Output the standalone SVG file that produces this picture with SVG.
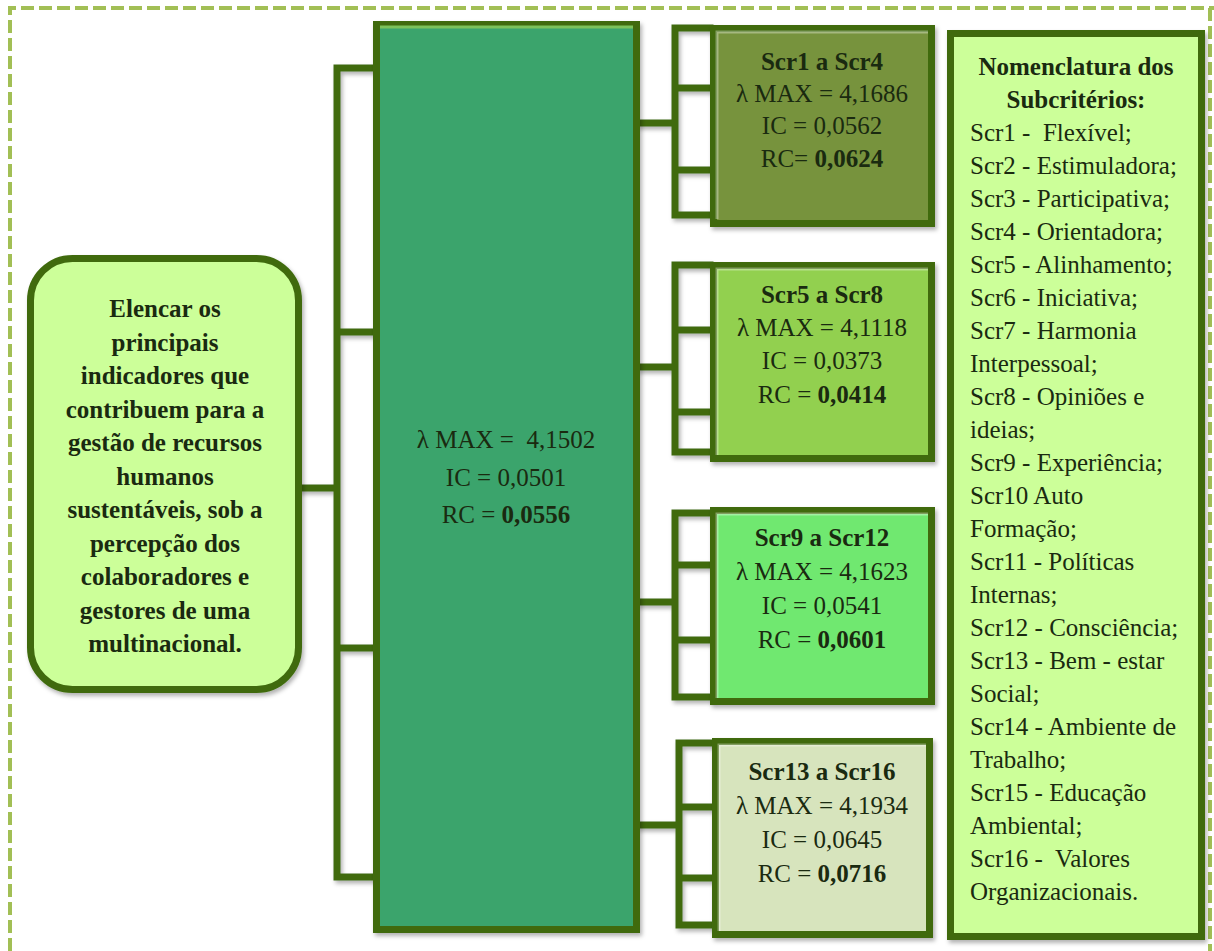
<svg xmlns="http://www.w3.org/2000/svg" width="1214" height="951" viewBox="0 0 1214 951">
<defs>
<style>
.frame{fill:none;stroke:#a2bf55;stroke-width:4;stroke-dasharray:13 5}
.ln{fill:none;stroke:#3f6b0e;stroke-width:7;stroke-linecap:square;stroke-linejoin:miter}
.node{stroke:#3f6b0e;stroke-width:7}
.hl{fill:none;stroke:#ffffff;stroke-opacity:0.35;stroke-width:3}
.t{font-family:"Liberation Serif","Times New Roman",serif;font-size:25px;fill:#1a2a10;text-anchor:middle;white-space:pre}
.l{text-anchor:start}
.b{font-weight:bold}
</style>
<filter id="sh" x="-10%" y="-10%" width="125%" height="125%">
<feDropShadow dx="2" dy="3" stdDeviation="2" flood-color="#000" flood-opacity="0.3"/>
</filter>
</defs>
<rect width="1214" height="951" fill="#fff"/>
<path class="frame" d="M10,951 V8 H1214 M1210,8 V951"/>

<g id="connectors" filter="url(#sh)">
<path class="ln" d="M302,488 H337 M373,68 H337 V877 H373 M337,332 H373 M337,648 H373"/>
<path class="ln" d="M640,123 H675 M710,28 H675 V215 H710 M675,88 H710 M675,170 H710"/>
<path class="ln" d="M640,367 H675 M710,265 H675 V452 H710 M675,330 H710 M675,412 H710"/>
<path class="ln" d="M640,602 H675 M710,513 H675 V697 H710 M675,565 H710 M675,640 H710"/>
<path class="ln" d="M640,825 H679 M712,743 H679 V925 H712 M679,807 H712 M679,878 H712"/>
</g>

<g id="goal">
<rect class="node" x="30.5" y="258.5" width="268" height="431" rx="42" fill="#ccff99" filter="url(#sh)"/>
<text class="t b" x="165"><tspan x="165" y="317">Elencar os</tspan><tspan x="165" y="350.5">principais</tspan><tspan x="165" y="384">indicadores que</tspan><tspan x="165" y="417.5">contribuem para a</tspan><tspan x="165" y="451">gestão de recursos</tspan><tspan x="165" y="484.5">humanos</tspan><tspan x="165" y="518">sustentáveis, sob a</tspan><tspan x="165" y="551.5">percepção dos</tspan><tspan x="165" y="585">colaboradores e</tspan><tspan x="165" y="618.5">gestores de uma</tspan><tspan x="165" y="652">multinacional.</tspan></text>
</g>

<g id="criteria">
<rect class="node" x="376.5" y="24.5" width="260" height="905" fill="#3aa46c" filter="url(#sh)"/>
<line x1="380" y1="27" x2="633" y2="27" stroke="#7cc25a" stroke-width="3"/>
<text class="t" x="506"><tspan x="506" y="448">λ MAX =  4,1502</tspan><tspan x="506" y="486">IC = 0,0501</tspan><tspan x="506" y="523">RC = <tspan class="b">0,0556</tspan></tspan></text>
</g>

<g id="scr1-4">
<rect class="node" x="713.5" y="28.5" width="218" height="195" fill="#77933c" filter="url(#sh)"/>
<path class="hl" d="M717,219 V32 H928"/>
<text class="t" x="822"><tspan class="b" x="822" y="70">Scr1 a Scr4</tspan><tspan x="822" y="102">λ MAX = 4,1686</tspan><tspan x="822" y="134">IC = 0,0562</tspan><tspan x="822" y="167">RC= <tspan class="b">0,0624</tspan></tspan></text>
</g>

<g id="scr5-8">
<rect class="node" x="713.5" y="265.5" width="218" height="193" fill="#92d050" filter="url(#sh)"/>
<path class="hl" d="M717,455 V269 H928"/>
<text class="t" x="822"><tspan class="b" x="822" y="303">Scr5 a Scr8</tspan><tspan x="822" y="336">λ MAX = 4,1118</tspan><tspan x="822" y="369">IC = 0,0373</tspan><tspan x="822" y="403">RC = <tspan class="b">0,0414</tspan></tspan></text>
</g>

<g id="scr9-12">
<rect class="node" x="713.5" y="510.5" width="218" height="191" fill="#6fe86f" filter="url(#sh)"/>
<path class="hl" d="M717,698 V514 H928"/>
<text class="t" x="822"><tspan class="b" x="822" y="546">Scr9 a Scr12</tspan><tspan x="822" y="580">λ MAX = 4,1623</tspan><tspan x="822" y="614">IC = 0,0541</tspan><tspan x="822" y="648">RC = <tspan class="b">0,0601</tspan></tspan></text>
</g>

<g id="scr13-16">
<rect class="node" x="715.5" y="741.5" width="214" height="193" fill="#d7e4bd" filter="url(#sh)"/>
<path class="hl" d="M719,931 V745 H926"/>
<text class="t" x="822"><tspan class="b" x="822" y="780">Scr13 a Scr16</tspan><tspan x="822" y="814">λ MAX = 4,1934</tspan><tspan x="822" y="848">IC = 0,0645</tspan><tspan x="822" y="882">RC = <tspan class="b">0,0716</tspan></tspan></text>
</g>

<g id="legend">
<rect class="node" x="950.5" y="33.5" width="251" height="903" fill="#ccff99" filter="url(#sh)"/>
<text class="t b" x="1076"><tspan x="1076" y="75">Nomenclatura dos</tspan><tspan x="1076" y="108">Subcritérios:</tspan></text>
<text class="t l" x="970"><tspan x="970" y="141">Scr1 -  Flexível;</tspan><tspan x="970" y="174">Scr2 - Estimuladora;</tspan><tspan x="970" y="207">Scr3 - Participativa;</tspan><tspan x="970" y="240">Scr4 - Orientadora;</tspan><tspan x="970" y="273">Scr5 - Alinhamento;</tspan><tspan x="970" y="306">Scr6 - Iniciativa;</tspan><tspan x="970" y="339">Scr7 - Harmonia</tspan><tspan x="970" y="372">Interpessoal;</tspan><tspan x="970" y="405">Scr8 - Opiniões e</tspan><tspan x="970" y="438">ideias;</tspan><tspan x="970" y="471">Scr9 - Experiência;</tspan><tspan x="970" y="504">Scr10 Auto</tspan><tspan x="970" y="537">Formação;</tspan><tspan x="970" y="570">Scr11 - Políticas</tspan><tspan x="970" y="603">Internas;</tspan><tspan x="970" y="636">Scr12 - Consciência;</tspan><tspan x="970" y="669">Scr13 - Bem - estar</tspan><tspan x="970" y="702">Social;</tspan><tspan x="970" y="735">Scr14 - Ambiente de</tspan><tspan x="970" y="768">Trabalho;</tspan><tspan x="970" y="801">Scr15 - Educação</tspan><tspan x="970" y="834">Ambiental;</tspan><tspan x="970" y="867">Scr16 -  Valores</tspan><tspan x="970" y="900">Organizacionais.</tspan></text>
</g>
</svg>
